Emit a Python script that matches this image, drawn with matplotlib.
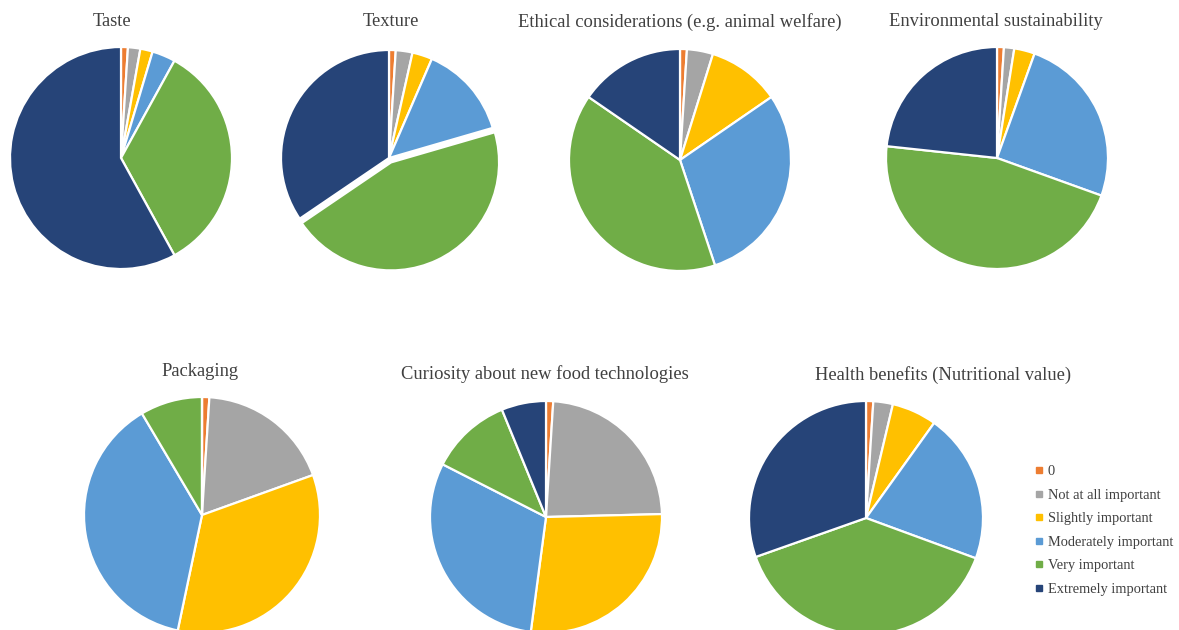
import matplotlib
matplotlib.use("Agg")
import matplotlib.pyplot as plt
from matplotlib.lines import Line2D

categories = ["0", "Not at all important", "Slightly important",
              "Moderately important", "Very important", "Extremely important"]
colors = ["#ED7D31", "#A5A5A5", "#FFC000", "#5B9BD5", "#70AD47", "#264478"]

titles = ["Taste", "Texture", "Ethical considerations (e.g. animal welfare)",
          "Environmental sustainability", "Packaging",
          "Curiosity about new food technologies", "Health benefits (Nutritional value)"]

taste = [1.0, 1.8, 1.8, 3.4, 34.0, 58.0]
texture = [1.0, 2.5, 3.0, 14.0, 45.0, 34.5]
ethical = [1.0, 3.8, 10.6, 29.5, 39.7, 15.4]
environmental = [1.0, 1.5, 3.0, 25.0, 46.2, 23.3]
packaging = [1.0, 18.5, 33.8, 38.2, 8.5, 0.0]
curiosity = [1.0, 23.6, 27.5, 30.4, 11.3, 6.2]
health = [1.0, 2.7, 6.2, 20.7, 39.0, 30.4]
series = [taste, texture, ethical, environmental, packaging, curiosity, health]
explodes = [None, [0, 0, 0, 0, 0.045, 0], None, None, None, None, None]

W, H = 1179, 630
fig = plt.figure(figsize=(W / 100, H / 100), dpi=100)
fig.patch.set_facecolor("white")

# pie centres / radii in pixels
centers = [(121, 158, 111), (389, 158, 108), (680, 160, 111), (997, 158, 111),
           (202, 515, 118), (546, 517, 116), (866, 518, 117)]
title_pos = [(112, 21), (391, 21), (680, 22), (996, 22),
             (200, 371), (545, 374), (943, 375)]

pad = 1.1
serif = ["Liberation Serif", "DejaVu Serif"]
for vals, (cx, cy, r), title, (tx, ty), ex in zip(series, centers, titles, title_pos, explodes):
    R = r * pad
    ax = fig.add_axes([(cx - R) / W, 1 - (cy + R) / H, 2 * R / W, 2 * R / H])
    ax.pie(vals, colors=colors, startangle=90, counterclock=False, explode=ex,
           wedgeprops=dict(edgecolor="white", linewidth=1.6))
    ax.set_xlim(-pad, pad)
    ax.set_ylim(-pad, pad)
    ax.set_aspect("equal")
    ax.axis("off")
    fig.text(tx / W, 1 - ty / H, title, ha="center", va="center",
             fontsize=13.3, color="#404040", family=serif)

handles = [Line2D([0], [0], marker="s", linestyle="none", markersize=4.5,
                  markerfacecolor=c, markeredgecolor=c) for c in colors]
leg = fig.legend(handles, categories, loc="upper left",
                 bbox_to_anchor=(1022 / W, 1 - 452 / H), frameon=False,
                 handlelength=0.6, handletextpad=0.3, labelspacing=0.72,
                 prop=dict(family=serif, size=10.4))
for t in leg.get_texts():
    t.set_color("#404040")

fig.savefig("out.png", dpi=100, facecolor="white")
